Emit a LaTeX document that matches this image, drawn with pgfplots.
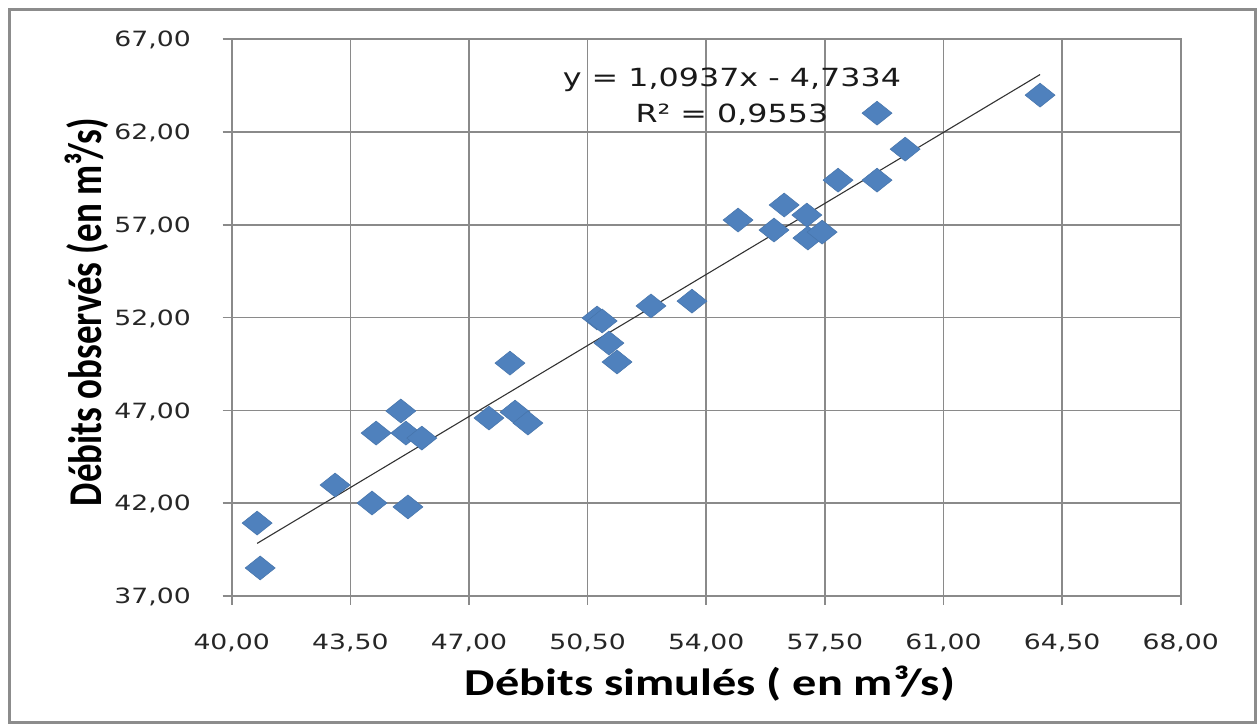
\documentclass[border=0pt]{standalone}
\usepackage{fontspec}
\usepackage{graphicx}
\usepackage{pgfplots}
\pgfplotsset{compat=1.18}
\setmainfont{DejaVu Sans}
\newfontfamily\tickfont[FakeStretch=1.27]{DejaVu Sans}
\newfontfamily\titlefont[FakeStretch=1.27]{Carlito}
\newfontfamily\ytitlefont{Carlito}
\definecolor{gridgray}{RGB}{138,138,138}
\definecolor{ptblue}{RGB}{79,129,189}
\definecolor{ptedge}{RGB}{70,116,170}
\definecolor{framegray}{RGB}{140,140,140}

\pgfplotstableread{
x y
40.75 40.93
40.84 38.51
43.05 42.98
44.14 42.01
44.26 45.78
44.99 46.97
45.14 45.78
45.20 41.80
45.61 45.51
47.59 46.59
48.21 49.55
48.36 46.91
48.74 46.32
50.78 51.98
50.93 51.82
51.13 50.63
51.37 49.61
52.37 52.63
53.58 52.89
54.94 57.26
56.00 56.72
56.30 58.07
56.97 57.53
57.00 56.29
57.42 56.61
57.89 59.41
59.04 63.02
59.04 59.41
59.87 61.08
63.85 63.99
}\datatable

\begin{document}
\begin{tikzpicture}[x=1pt,y=1pt]
\useasboundingbox (0,0) rectangle (1260,727);
\draw[framegray, line width=3pt] (9.5,4.5) rectangle (1255.5,717.5);
\begin{axis}[
  at={(231.7pt,131pt)}, anchor=south west,
  scale only axis, width=949pt, height=556.7pt,
  xmin=40, xmax=68, ymin=37, ymax=67,
  xtick={40,43.5,47,50.5,54,57.5,61,64.5,68},
  ytick={37,42,47,52,57,62,67},
  grid=major,
  grid style={gridgray, line width=1.6pt},
  axis line style={gridgray, line width=1.6pt},
  tick style={gridgray, line width=1.6pt},
  tick align=outside, major tick length=9pt,
  xtick pos=bottom, ytick pos=left,
  /pgf/number format/fixed,
  /pgf/number format/fixed zerofill,
  /pgf/number format/precision=2,
  /pgf/number format/use comma,
  /pgf/number format/assume math mode=true,
  ticklabel style={font=\tickfont\fontsize{21}{25}\selectfont, text=black!85, inner sep=0pt},
  xticklabel style={anchor=base, yshift=-45pt},
  yticklabel style={anchor=base east, xshift=-31.7pt, yshift=-7.6pt},
  xlabel={D\'ebits simul\'es ( en m³/s)},
  ylabel={\scalebox{1}[1.27]{\ytitlefont\bfseries D\'ebits observ\'es (en m³/s)}},
  xlabel style={at={(axis description cs:0.504,-0.158)}, anchor=center, font=\titlefont\bfseries\fontsize{38}{44}\selectfont, inner sep=0pt},
  ylabel style={at={(axis description cs:-0.1525,0.51)}, anchor=center, font=\fontsize{37}{44}\selectfont, inner sep=0pt},
]
\addplot[only marks, mark=diamond*, mark size=12pt,
  mark options={fill=ptblue, draw=ptedge, line width=0.5pt, xscale=1.67}] table[x=x, y=y] {\datatable};
\addplot[black!80, line width=1.1pt, no marks] coordinates {(40.75,39.835) (63.85,65.10)};
\node[font=\tickfont\fontsize{25}{36}\selectfont, align=center, text=black!90, inner sep=0pt]
  at (axis cs:54.76,63.89) {y = 1,0937x - 4,7334\\R² = 0,9553};
\end{axis}
\end{tikzpicture}
\end{document}
